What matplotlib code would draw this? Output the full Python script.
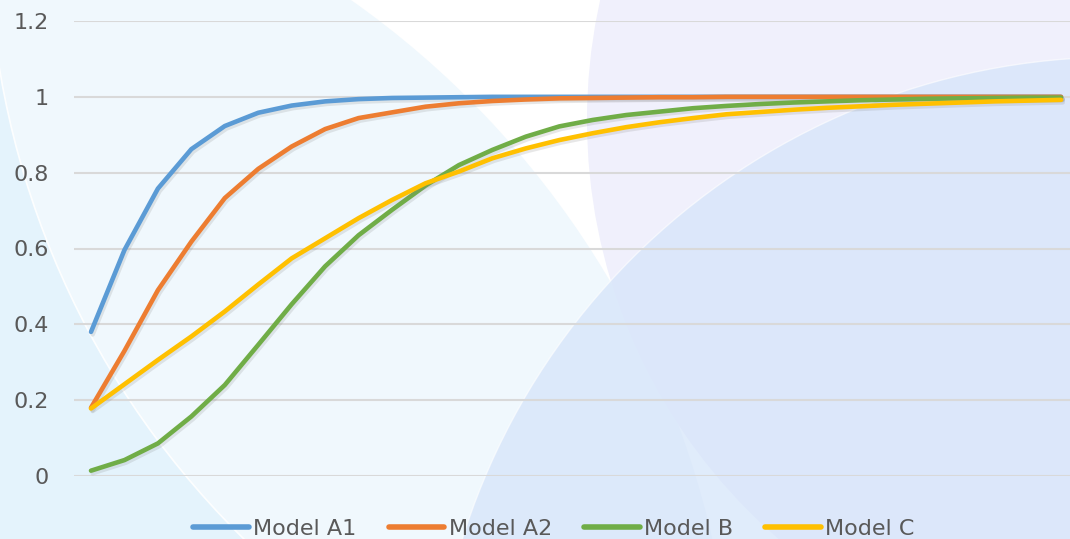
import numpy as np
import matplotlib
matplotlib.use('Agg')
import matplotlib.pyplot as plt
import matplotlib.patheffects as pe
from matplotlib.patches import Circle

# data (30 points per series)
x = np.arange(1, 31)
model_a1 = [0.38, 0.596, 0.758, 0.862, 0.923, 0.958, 0.977, 0.988, 0.994, 0.997,
            0.998, 0.999, 1.0, 1.0, 1.0, 1.0, 1.0, 1.0, 1.0, 1.0,
            1.0, 1.0, 1.0, 1.0, 1.0, 1.0, 1.0, 1.0, 1.0, 1.0]
model_a2 = [0.18, 0.33, 0.49, 0.618, 0.733, 0.81, 0.869, 0.915, 0.944, 0.959,
            0.974, 0.983, 0.989, 0.993, 0.996, 0.997, 0.998, 0.999, 0.999, 1.0,
            1.0, 1.0, 1.0, 1.0, 1.0, 1.0, 1.0, 1.0, 1.0, 1.0]
model_b = [0.014, 0.042, 0.086, 0.157, 0.24, 0.346, 0.453, 0.553, 0.635, 0.702,
           0.766, 0.82, 0.86, 0.895, 0.922, 0.939, 0.952, 0.961, 0.97, 0.976,
           0.981, 0.985, 0.988, 0.991, 0.993, 0.995, 0.996, 0.997, 0.998, 0.998]
model_c = [0.178, 0.242, 0.306, 0.368, 0.434, 0.505, 0.574, 0.627, 0.68, 0.728,
           0.772, 0.803, 0.838, 0.864, 0.886, 0.904, 0.92, 0.933, 0.944, 0.954,
           0.96, 0.966, 0.971, 0.975, 0.979, 0.982, 0.985, 0.988, 0.99, 0.992]
series_names = ['Model A1', 'Model A2', 'Model B', 'Model C']
series_colors = ['#5B9BD5', '#ED7D31', '#70AD47', '#FFC000']
y_ticks = [0, 0.2, 0.4, 0.6, 0.8, 1.0, 1.2]
y_tick_labels = ['0', '0.2', '0.4', '0.6', '0.8', '1', '1.2']

W, H = 1070, 539
fig = plt.figure(figsize=(W / 100, H / 100), dpi=100)
fig.patch.set_facecolor('white')

# decorative background circles (pixel coords)
bg = fig.add_axes([0, 0, 1, 1])
bg.set_xlim(0, W)
bg.set_ylim(H, 0)
bg.axis('off')
bg.add_patch(Circle((-170, 740), 905, color='#E4F3FC', lw=0))
bg.add_patch(Circle((843, -71), 855, facecolor='white', alpha=0.45, lw=0))
bg.add_patch(Circle((843, -71), 855, fill=False, edgecolor='white', lw=1.2, alpha=0.9))
bg.add_patch(Circle((1141, 120), 554, color='#F0F0FC', lw=0))
bg.add_patch(Circle((1118, 744), 687, facecolor='#D4E4FA', alpha=0.7, lw=0))
bg.add_patch(Circle((1118, 744), 687, fill=False, edgecolor='white', lw=1.0, alpha=0.6))

# main plot area
ax = fig.add_axes([74 / W, (H - 476) / H, (W - 74) / W, 455 / H])
ax.patch.set_alpha(0)
ax.set_xlim(1 - 17 / 33.45, 1 + (W - 91) / 33.45)
ax.set_ylim(0, 1.2)

all_series = [model_a1, model_a2, model_b, model_c]
for vals, name, col in zip(all_series, series_names, series_colors):
    ax.plot(x, vals, color=col, lw=3.3, label=name, solid_capstyle='round',
            solid_joinstyle='round', clip_on=False, zorder=3,
            path_effects=[pe.SimpleLineShadow(offset=(1.2, -1.8), shadow_color='#7f7f7f', alpha=0.18),
                          pe.Normal()])

ax.set_yticks(y_ticks)
ax.set_yticklabels(y_tick_labels, fontsize=16, color='#595959')
ax.set_xticks([])
ax.tick_params(axis='y', length=0, pad=18)
ax.grid(axis='y', color='#D9D9D9', lw=1.5, zorder=1)
for s in ax.spines.values():
    s.set_visible(False)

leg = fig.legend(loc='center', bbox_to_anchor=(554 / W, 1 - 529 / H), ncol=4,
                 frameon=False, fontsize=16, handlelength=2.5, handletextpad=0.2,
                 columnspacing=1.45, borderpad=0, borderaxespad=0)
for txt in leg.get_texts():
    txt.set_color('#595959')
for line in leg.get_lines():
    line.set_linewidth(4)
    line.set_path_effects([])

fig.savefig('out.png', dpi=100)
